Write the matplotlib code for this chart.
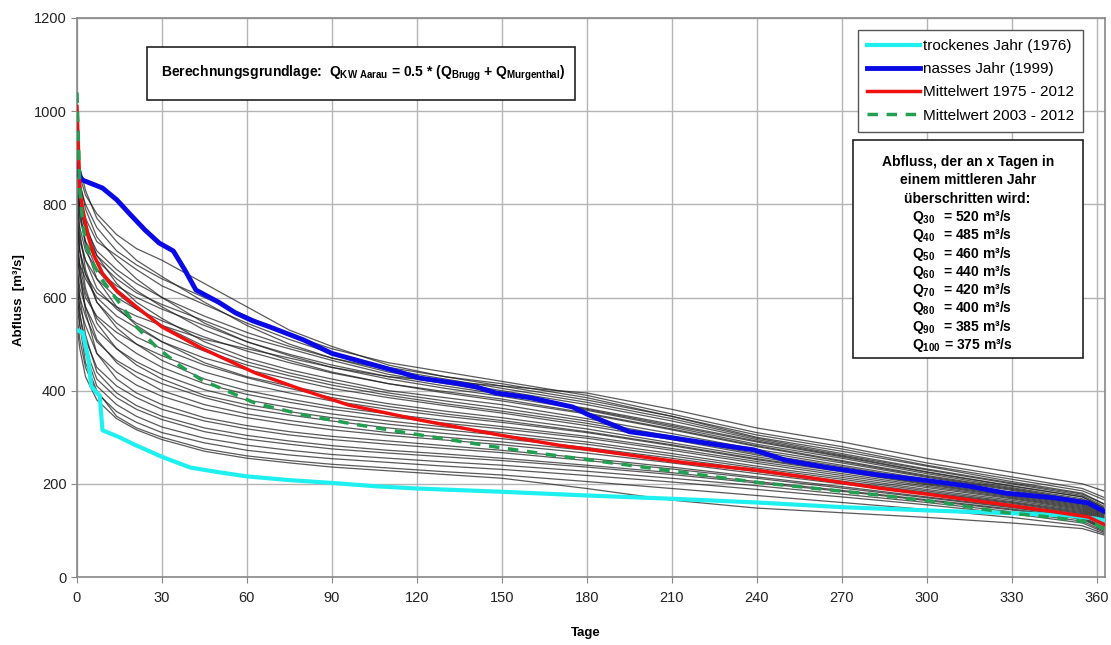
import matplotlib
matplotlib.use("Agg")
import matplotlib.pyplot as plt
from matplotlib.patches import Rectangle

plt.rcParams['font.family'] = ['Liberation Sans', 'DejaVu Sans']
plt.rcParams['mathtext.fontset'] = 'custom'
plt.rcParams['mathtext.rm'] = 'Liberation Sans'
plt.rcParams['mathtext.bf'] = 'Liberation Sans:bold'

# Tage (Stützstellen) für die grauen Jahreskurven 1975 - 2012
knots = [0, 1, 3, 7, 14, 21, 30, 45, 60, 75, 90, 110, 130, 150, 180, 210, 240, 270, 300, 330, 355, 365]

grey_years = [
    [760, 700, 650, 610, 580, 560, 540, 510, 490, 470, 450, 430, 420, 410, 395, 360, 320, 290, 255, 225, 200, 180],
    [950, 860, 820, 780, 735, 705, 680, 630, 580, 530, 495, 455, 430, 415, 385, 345, 305, 275, 240, 210, 185, 160],
    [900, 840, 800, 750, 700, 670, 640, 600, 560, 520, 490, 460, 440, 420, 390, 350, 310, 280, 245, 215, 190, 165],
    [880, 820, 770, 720, 690, 660, 625, 585, 545, 510, 480, 450, 430, 410, 380, 345, 300, 270, 238, 205, 180, 150],
    [980, 880, 830, 770, 720, 680, 645, 590, 540, 500, 470, 440, 420, 400, 370, 335, 295, 262, 230, 200, 175, 145],
    [850, 790, 750, 700, 660, 630, 600, 560, 525, 495, 470, 445, 425, 405, 375, 340, 298, 265, 232, 202, 178, 150],
    [820, 770, 720, 680, 640, 610, 585, 550, 515, 490, 465, 435, 415, 395, 360, 325, 290, 258, 225, 195, 172, 140],
    [930, 850, 790, 730, 680, 640, 600, 545, 505, 475, 450, 425, 405, 388, 358, 322, 285, 255, 222, 192, 168, 138],
    [800, 750, 700, 660, 625, 600, 575, 540, 505, 478, 455, 430, 410, 392, 362, 328, 292, 260, 226, 196, 172, 142],
    [870, 800, 740, 690, 650, 615, 580, 530, 495, 465, 440, 415, 398, 382, 352, 318, 282, 250, 218, 190, 165, 135],
    [760, 720, 680, 640, 600, 575, 550, 515, 485, 460, 438, 415, 395, 378, 350, 316, 280, 248, 216, 188, 164, 132],
    [910, 830, 760, 690, 630, 590, 555, 505, 470, 445, 425, 400, 385, 370, 340, 308, 274, 245, 214, 186, 160, 130],
    [840, 780, 720, 660, 610, 575, 540, 495, 462, 438, 418, 395, 378, 362, 335, 302, 270, 240, 210, 182, 158, 128],
    [780, 730, 680, 620, 575, 545, 520, 485, 455, 432, 412, 390, 372, 356, 330, 298, 265, 237, 207, 180, 156, 126],
    [700, 670, 640, 600, 560, 535, 505, 470, 445, 425, 405, 385, 368, 352, 325, 295, 262, 234, 205, 178, 154, 124],
    [860, 790, 710, 640, 580, 540, 505, 460, 430, 410, 392, 372, 356, 342, 318, 288, 258, 230, 202, 176, 152, 122],
    [740, 700, 650, 590, 545, 515, 490, 455, 428, 405, 385, 366, 350, 336, 312, 284, 254, 228, 200, 174, 150, 120],
    [690, 650, 600, 560, 525, 500, 475, 440, 415, 395, 378, 360, 345, 332, 310, 282, 252, 226, 198, 172, 148, 118],
    [820, 740, 660, 590, 535, 500, 465, 425, 400, 382, 366, 350, 336, 323, 302, 276, 248, 222, 195, 170, 146, 116],
    [720, 670, 610, 555, 510, 480, 450, 415, 392, 375, 360, 344, 330, 318, 298, 272, 244, 218, 192, 168, 144, 114],
    [660, 620, 580, 530, 490, 462, 435, 402, 380, 364, 350, 335, 322, 310, 290, 265, 238, 214, 188, 165, 142, 112],
    [780, 700, 620, 545, 490, 455, 425, 390, 370, 355, 342, 328, 316, 304, 285, 260, 234, 210, 185, 162, 140, 110],
    [640, 600, 560, 505, 465, 440, 415, 385, 362, 348, 335, 320, 308, 297, 278, 255, 230, 206, 182, 160, 138, 108],
    [700, 640, 580, 510, 460, 430, 400, 370, 350, 336, 324, 310, 300, 290, 272, 250, 226, 203, 180, 158, 136, 106],
    [620, 580, 540, 480, 440, 412, 388, 360, 342, 328, 316, 304, 294, 284, 266, 245, 222, 200, 177, 155, 134, 104],
    [750, 660, 570, 480, 425, 395, 370, 342, 325, 312, 302, 292, 282, 272, 255, 236, 215, 194, 172, 151, 130, 100],
    [600, 560, 510, 450, 410, 385, 360, 335, 318, 305, 295, 285, 276, 267, 250, 232, 212, 191, 170, 149, 128, 98],
    [680, 600, 520, 440, 395, 368, 345, 320, 304, 292, 282, 272, 264, 255, 240, 224, 205, 186, 166, 146, 126, 96],
    [580, 540, 490, 425, 385, 360, 338, 312, 296, 285, 275, 266, 258, 250, 236, 220, 202, 184, 164, 144, 124, 95],
    [650, 570, 480, 410, 370, 345, 322, 298, 283, 272, 263, 255, 247, 240, 227, 212, 196, 178, 160, 140, 120, 92],
    [560, 510, 450, 395, 355, 332, 310, 288, 272, 262, 254, 246, 238, 231, 218, 204, 188, 172, 155, 136, 116, 90],
    [620, 540, 460, 400, 345, 320, 300, 275, 260, 250, 242, 234, 226, 219, 205, 190, 175, 160, 145, 128, 110, 88],
    [540, 490, 430, 380, 340, 316, 295, 270, 255, 245, 236, 228, 220, 212, 190, 165, 148, 138, 128, 116, 104, 86],
]

# trockenes Jahr 1976
dry_days = [0, 2, 4, 5, 7, 8, 9, 15, 20, 30, 40, 50, 60, 75, 90, 105, 120, 150, 180, 210, 240, 270, 300, 330, 350, 360, 365]
dry_q = [530, 525, 470, 410, 395, 390, 315, 300, 285, 258, 235, 225, 216, 208, 202, 195, 190, 183, 175, 168, 160, 150, 143, 137, 132, 125, 118]

# nasses Jahr 1999
wet_days = [0, 1, 2, 9, 14, 19, 24, 29, 34, 38, 42, 50, 56, 62, 68, 80, 90, 96, 105, 115, 121, 135, 141, 148, 160,
            175, 180, 185, 195, 208, 225, 239, 250, 265, 283, 299, 315, 328, 345, 357, 363, 365]
wet_q = [885, 860, 852, 835, 810, 777, 745, 717, 700, 660, 616, 590, 567, 550, 537, 509, 480, 470, 455, 438, 427, 415, 408, 395, 385,
         365, 350, 337, 312, 301, 285, 273, 251, 235, 219, 208, 195, 180, 170, 159, 140, 135]

# Mittelwert 1975 - 2012
mean_days = [0, 1, 2, 4, 6, 9, 14, 21, 30, 44, 63, 80, 96, 121, 149, 170, 195, 215, 239, 260, 283, 300, 328, 345, 357, 363, 365]
mean_q = [1010, 830, 790, 730, 690, 652, 615, 580, 537, 491, 438, 401, 369, 337, 305, 283, 262, 245, 230, 212, 191, 178, 155, 140, 129, 112, 105]

# Mittelwert 2003 - 2012
mean03_days = [0, 1, 2, 3, 5, 9, 16, 21, 28, 36, 44, 63, 80, 96, 121, 148, 170, 195, 239, 283, 305, 328, 345, 359, 365]
mean03_q = [1040, 830, 760, 720, 680, 637, 580, 537, 494, 455, 423, 373, 348, 330, 305, 279, 260, 240, 204, 176, 160, 138, 128, 116, 95]

xticks = list(range(0, 361, 30))
yticks = list(range(0, 1201, 200))

box_lines = ['Abfluss, der an x Tagen in', 'einem mittleren Jahr', 'überschritten wird:']
q_days = ['30', '40', '50', '60', '70', '80', '90', '100']
q_values = [520, 485, 460, 440, 420, 400, 385, 375]

fig = plt.figure(figsize=(11.11, 6.45), dpi=100)
ax = fig.add_axes([0.0693, 0.1054, 0.9253, 0.8667])

for q in grey_years:
    ax.plot(knots, q, color='#1a1a1a', lw=0.9, alpha=0.72, zorder=2)

ax.plot(dry_days, dry_q, color='#1EF0F0', lw=3, zorder=4, label='trockenes Jahr (1976)')
ax.plot(wet_days, wet_q, color='#0A0AE6', lw=3.5, zorder=4, label='nasses Jahr (1999)')
ax.plot(mean_days, mean_q, color='#F01010', lw=2.5, zorder=5, label='Mittelwert 1975 - 2012')
ax.plot(mean03_days, mean03_q, color='#20A050', lw=2.5, ls=(0, (3, 2.5)), zorder=5, label='Mittelwert 2003 - 2012')

ax.set_xlim(0, 363)
ax.set_ylim(0, 1200)
ax.set_xticks(xticks)
ax.set_yticks(yticks)
ax.grid(True, color='#b4b4b4', lw=1)
ax.set_axisbelow(True)
for s in ax.spines.values():
    s.set_color('#888888')
    s.set_linewidth(1.2)
ax.tick_params(direction='out', length=4, color='#888888', labelsize=10.5, labelcolor='#222222')
ax.tick_params(axis='x', pad=6)

fig.text(0.017, 0.535, 'Abfluss  [m³/s]', rotation=90, ha='center', va='center', fontsize=9.5, fontweight='bold')
fig.text(0.527, 0.018, 'Tage', ha='center', va='center', fontsize=9.5, fontweight='bold')

# Titelbox
fig.patches.append(Rectangle((0.132, 0.845), 0.3855, 0.082, transform=fig.transFigure,
                             facecolor='white', edgecolor='#222222', lw=1.2, zorder=6))
fig.text(0.327, 0.886,
         r'Berechnungsgrundlage:  Q$_{\mathbf{KW\ Aarau}}$ = 0.5 * (Q$_{\mathbf{Brugg}}$ + Q$_{\mathbf{Murgenthal}}$)',
         ha='center', va='center', fontsize=10, fontweight='bold', zorder=7)

leg = ax.legend(loc='upper right', bbox_to_anchor=(0.9748, 0.9535), bbox_transform=fig.transFigure,
                borderaxespad=0, fancybox=False, framealpha=1, edgecolor='#555555', fontsize=11,
                handlelength=3.5, handletextpad=0.15, labelspacing=0.6, borderpad=0.6)
leg.get_frame().set_linewidth(1.0)
leg.set_zorder(8)

# Infobox
fig.patches.append(Rectangle((0.7678, 0.445), 0.207, 0.338, transform=fig.transFigure,
                             facecolor='white', edgecolor='#222222', lw=1.2, zorder=6))
y = 1 - 162 / 645
for line in box_lines:
    fig.text(0.871, y, line, ha='center', va='center', fontsize=10, fontweight='bold', zorder=7)
    y -= 18.3 / 645
for d, v in zip(q_days, q_values):
    gap = r'\ \ ' if d != '100' else r'\ '
    fig.text(0.821, y, r'Q$_{\mathbf{%s}}%s$= %d m³/s' % (d, gap, v), ha='left', va='center',
             fontsize=10, fontweight='bold', zorder=7)
    y -= 18.3 / 645

fig.savefig('out.png', dpi=100)
